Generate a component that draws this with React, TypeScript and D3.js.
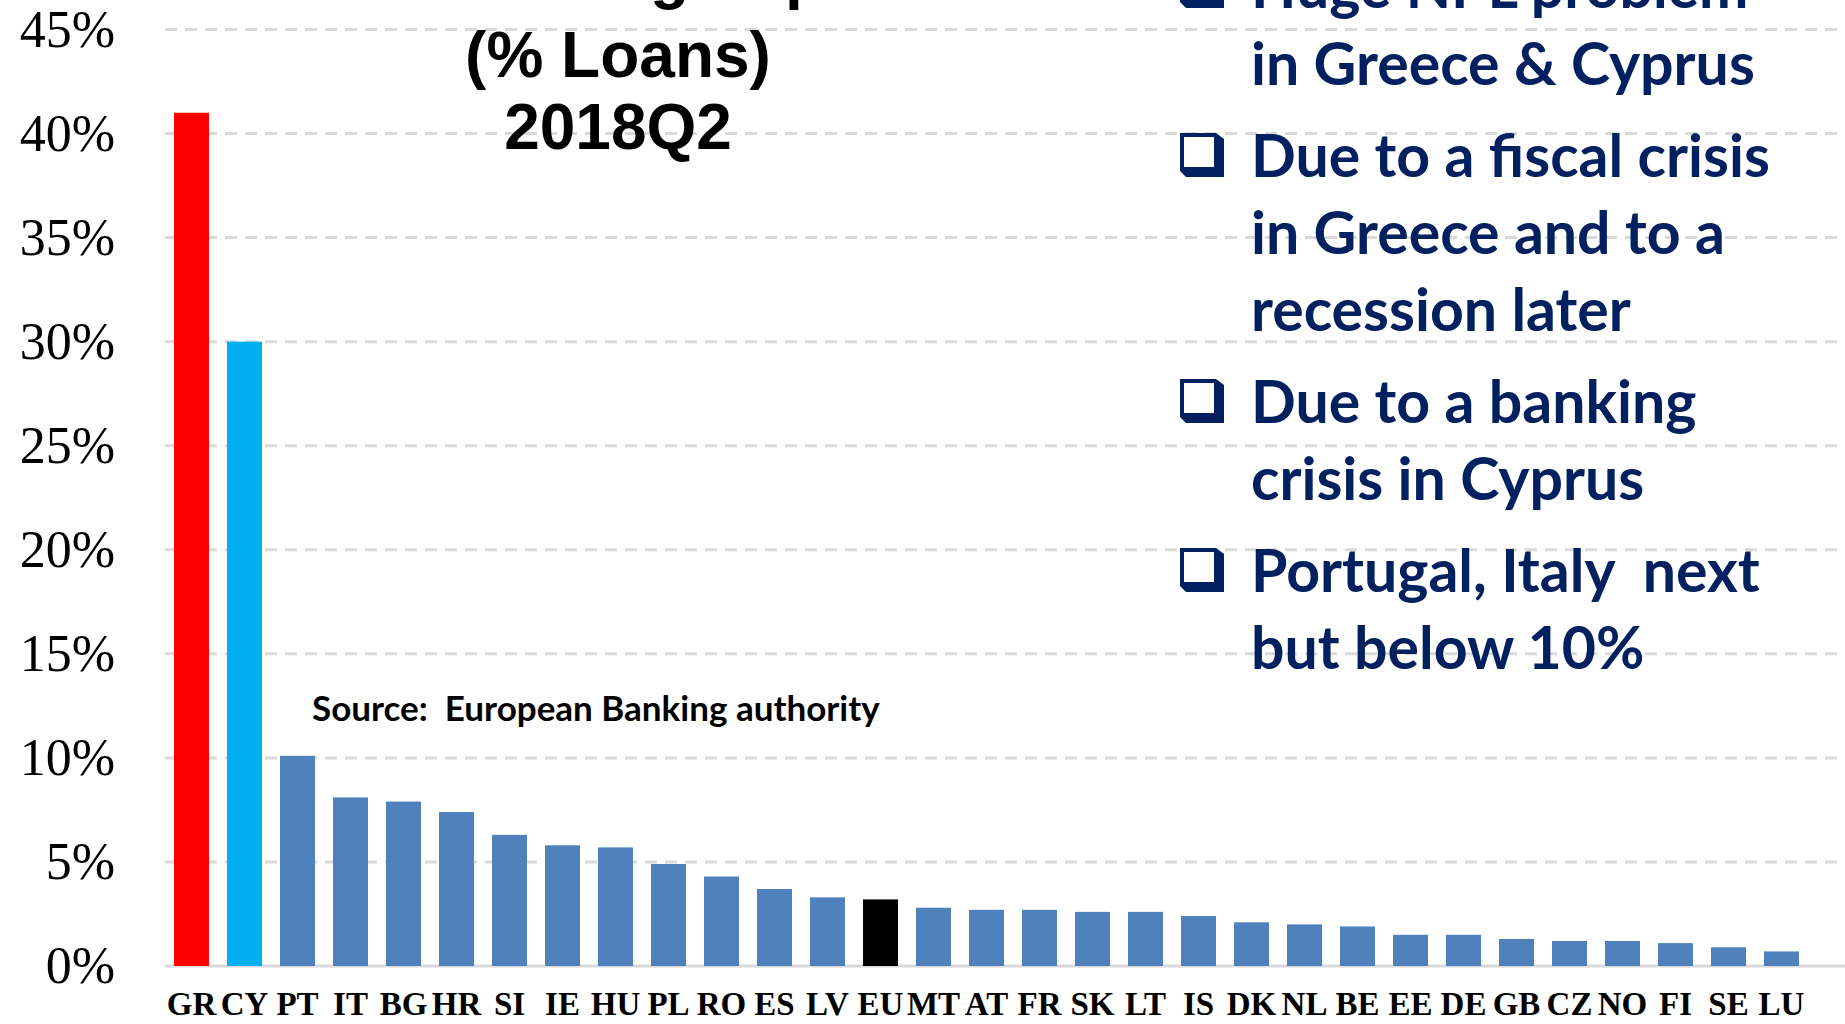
import React from 'react';
import * as d3 from 'd3';

// NPL ratio by country, 2018Q2 (% of loans)
const countries = ['GR', 'CY', 'PT', 'IT', 'BG', 'HR', 'SI', 'IE', 'HU', 'PL', 'RO', 'ES', 'LV', 'EU', 'MT', 'AT',
    'FR', 'SK', 'LT', 'IS', 'DK', 'NL', 'BE', 'EE', 'DE', 'GB', 'CZ', 'NO', 'FI', 'SE', 'LU'];
const nplRatio = [41.0, 30.0, 10.1, 8.1, 7.9, 7.4, 6.3, 5.8, 5.7, 4.9, 4.3, 3.7, 3.3, 3.2, 2.8, 2.7,
    2.7, 2.6, 2.6, 2.4, 2.1, 2.0, 1.9, 1.5, 1.5, 1.3, 1.2, 1.2, 1.1, 0.9, 0.7];
const yTicks = [0, 5, 10, 15, 20, 25, 30, 35, 40, 45];

const highlight: Record<string, string> = { GR: '#ff0000', CY: '#00b0f0', EU: '#000000' };
const defaultColor = '#4f81bd';

const titleLines = ['Non-Performing Exposures', '(% Loans)', '2018Q2'];
const sourceText = 'Source:  European Banking authority';
const notes = [
    ['Huge NPL problem', 'in Greece & Cyprus'],
    ['Due to a fiscal crisis', 'in Greece and to a', 'recession later'],
    ['Due to a banking', 'crisis in Cyprus'],
    ['Portugal, Italy  next', 'but below 10%'],
];

const width = 1845;
const height = 1024;
const plotLeft = 165;
const navy = '#002060';

const Bullet: React.FC<{ x: number; y: number }> = ({ x, y }) => {
    // box with a shadow on the right and bottom, like the Wingdings square
    const s = 44;
    return (
        <g transform={`translate(${x},${y - s})`}>
            <path d={`M0,0 H${s - 8} L${s},6 V${s} H6 L0,${s - 6} Z`} fill={navy} />
            <rect x={4} y={4} width={s - 14} height={s - 14} fill="#fff" />
        </g>
    );
};

const App: React.FC = () => {
    const x = d3.scaleBand<string>()
        .domain(countries)
        .range([plotLeft, plotLeft + countries.length * 53])
        .paddingInner(0.34)
        .paddingOuter(0.17);

    const y = d3.scaleLinear().domain([0, 45]).range([966, 29.5]);

    const lineH = 77;
    const gap = 92;
    let base = 8;
    const noteBlocks = notes.map(lines => {
        const b = base;
        base += (lines.length - 1) * lineH + gap;
        return { lines, base: b };
    });

    const titleBase = [-3, 77, 149];

    return (
        <div style={{ position: 'fixed', left: 0, top: 0 }}>
            <svg width={width} height={height} style={{ display: 'block', background: '#fff' }}>
                {/* grid */}
                {yTicks.filter(t => t > 0).map(t => (
                    <line key={t} x1={plotLeft} x2={width} y1={y(t)} y2={y(t)}
                        stroke="#d9d9d9" strokeWidth={3} strokeDasharray="12 8" />
                ))}
                <line x1={plotLeft} x2={width} y1={y(0)} y2={y(0)} stroke="#d9d9d9" strokeWidth={3} />

                {/* y labels */}
                {yTicks.map(t => (
                    <text key={t} x={115} y={y(t)} dy="0.33em" textAnchor="end"
                        fontFamily="'Liberation Serif', 'Times New Roman', serif" fontSize={52} fill="#000">
                        {t}%
                    </text>
                ))}

                {/* bars */}
                {countries.map((c, i) => (
                    <rect key={c} x={x(c)} y={y(nplRatio[i])} width={x.bandwidth()}
                        height={y(0) - y(nplRatio[i])} fill={highlight[c] ?? defaultColor} />
                ))}

                {/* x labels */}
                {countries.map(c => (
                    <text key={c} x={(x(c) as number) + x.bandwidth() / 2} y={1015} textAnchor="middle"
                        fontFamily="'Liberation Serif', 'Times New Roman', serif" fontWeight="bold"
                        fontSize={33} fill="#000">
                        {c}
                    </text>
                ))}

                {/* title */}
                {titleLines.map((t, i) => (
                    <text key={t} x={618} y={titleBase[i]} textAnchor="middle"
                        fontFamily="'Liberation Sans', Arial, sans-serif" fontWeight="bold" fontSize={64} fill="#000">
                        {t}
                    </text>
                ))}

                {/* source */}
                <text x={312} y={721} fontFamily="Lato, 'Open Sans', sans-serif" fontWeight="bold"
                    fontSize={35} fill="#000" style={{ whiteSpace: 'pre' }}>
                    {sourceText}
                </text>

                {/* notes */}
                {noteBlocks.map((blk, i) => (
                    <g key={i}>
                        <Bullet x={1180} y={blk.base} />
                        {blk.lines.map((ln, j) => (
                            <text key={j} x={1251} y={blk.base + j * lineH}
                                fontFamily="Lato, 'Open Sans', sans-serif" fontWeight="bold" fontSize={59}
                                fill={navy} style={{ whiteSpace: 'pre' }}>
                                {ln}
                            </text>
                        ))}
                    </g>
                ))}
            </svg>
        </div>
    );
};

export default App;
